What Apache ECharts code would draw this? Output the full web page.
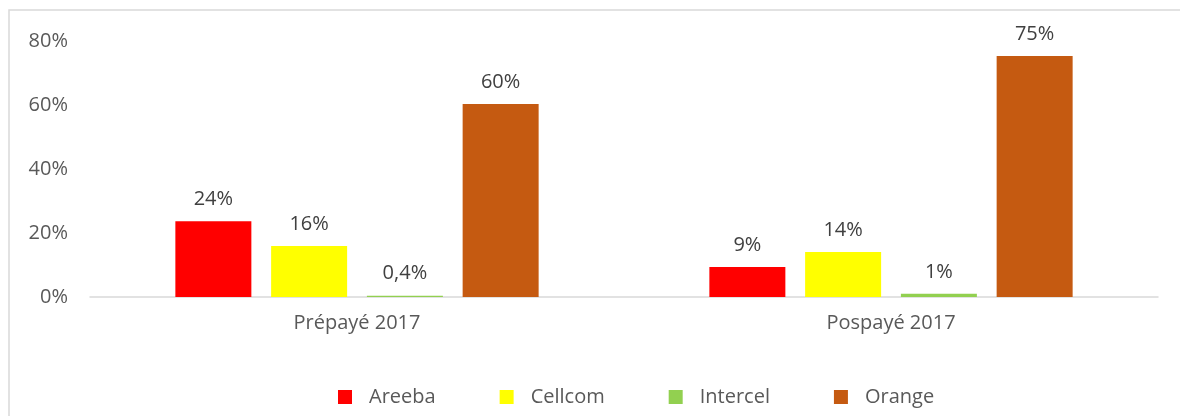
<!DOCTYPE html>
<html>
<head>
<meta charset="utf-8">
<script src="https://cdn.jsdelivr.net/npm/echarts@6/dist/echarts.min.js"></script>
<style>
  html, body { margin: 0; padding: 0; background: #fff; }
  #main { width: 1180px; height: 416px; }
</style>
</head>
<body>
<div id="main"></div>
<script>
// categories and series (percent)
var categories = ['Prépayé 2017', 'Pospayé 2017'];
var seriesNames = ['Areeba', 'Cellcom', 'Intercel', 'Orange'];
var seriesColors = ['#FF0000', '#FFFF00', '#92D050', '#C55A11'];
var areeba = [23.7, 9.4];
var cellcom = [15.9, 14.1];
var intercel = [0.4, 1.0];
var orange = [60.3, 75.3];
var yTicks = [0, 20, 40, 60, 80];

var seriesValues = [areeba, cellcom, intercel, orange];
var fontFamily = '"Open Sans", "DejaVu Sans", sans-serif';

// label: one decimal with comma under 1%, else rounded
function pctLabel(v) {
    if (v < 1) {
        return v.toFixed(1).replace('.', ',') + '%';
    }
    return Math.round(v) + '%';
}

var myChart = echarts.init(document.getElementById('main'));
var option = {
    animation: false,
    textStyle: { fontFamily: fontFamily },
    graphic: [
        {
            type: 'rect',
            shape: { x: 9, y: 10, width: 1300, height: 600 },
            style: { fill: 'none', stroke: '#d9d9d9', lineWidth: 1.5 },
            silent: true
        }
    ],
    legend: {
        left: 333,
        top: 382,
        itemWidth: 14,
        itemHeight: 14,
        itemGap: 64,
        icon: 'rect',
        data: seriesNames,
        textStyle: {
            fontSize: 20,
            color: '#595959',
            fontFamily: fontFamily,
            padding: [0, 0, 0, 12]
        }
    },
    grid: {
        left: 90,
        right: 22,
        top: 41,
        bottom: 119,
        containLabel: false
    },
    xAxis: [
        {
            type: 'category',
            data: categories,
            axisTick: { show: false },
            axisLine: { lineStyle: { color: '#d9d9d9', width: 1.5 } },
            axisLabel: {
                color: '#595959',
                fontSize: 20,
                margin: 16,
                fontFamily: fontFamily
            }
        }
    ],
    yAxis: [
        {
            type: 'value',
            min: yTicks[0],
            max: yTicks[yTicks.length - 1],
            interval: 20,
            splitLine: { show: false },
            axisLine: { show: false },
            axisTick: { show: false },
            axisLabel: {
                color: '#595959',
                fontSize: 20,
                margin: 22,
                fontFamily: fontFamily,
                formatter: '{value}%'
            }
        }
    ],
    series: seriesNames.map(function (name, i) {
        return {
            name: name,
            type: 'bar',
            data: seriesValues[i],
            barWidth: 76,
            barGap: '26%',
            itemStyle: { color: seriesColors[i] },
            label: {
                show: true,
                position: 'top',
                distance: 12,
                color: '#404040',
                fontSize: 20,
                fontFamily: fontFamily,
                formatter: function (p) {
                    return pctLabel(p.value);
                }
            }
        };
    })
};
myChart.setOption(option, true);
</script>
</body>
</html>
